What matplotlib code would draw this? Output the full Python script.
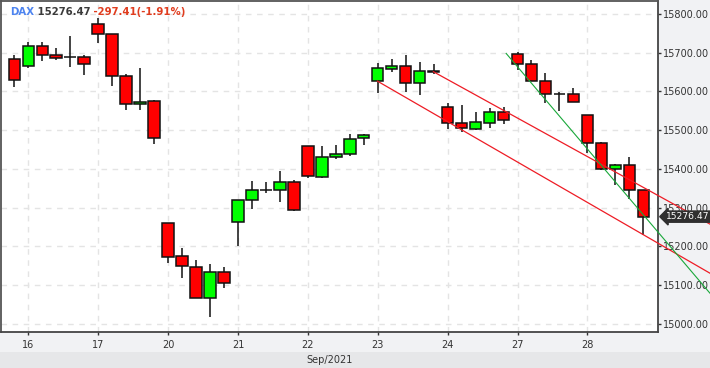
import matplotlib
matplotlib.use("Agg")
import matplotlib.pyplot as plt
import numpy as np

# ---- data ----
opens = [15683.5, 15665.5, 15717.7, 15694.5, 15687.6, 15688.6, 15773.5, 15747.8, 15639.7, 15568.5,
         15576.2, 15259.1, 15174.2, 15147.5, 15066.2, 15133.0, 15261.6, 15318.2, 15345.5, 15346.5,
         15367.0, 15459.7, 15380.0, 15431.4, 15437.3, 15480.3, 15627.0, 15657.8, 15665.5, 15621.8,
         15651.5, 15560.0, 15518.9, 15503.4, 15518.9, 15547.2, 15696.3, 15670.6, 15626.9, 15593.5,
         15593.5, 15539.5, 15467.5, 15400.6, 15410.9, 15344.0]
highs = [15694.5, 15728.0, 15728.0, 15712.6, 15743.4, 15694.5, 15788.9, 15748.0, 15645.7, 15661.0,
         15578.8, 15260.0, 15195.6, 15164.7, 15154.4, 15146.0, 15318.5, 15367.9, 15365.3, 15393.6,
         15372.3, 15460.0, 15458.0, 15460.5, 15488.8, 15490.6, 15673.2, 15683.5, 15694.5, 15675.8,
         15670.6, 15570.3, 15565.2, 15547.2, 15557.5, 15560.0, 15701.5, 15680.9, 15648.3, 15598.6,
         15608.9, 15540.0, 15470.0, 15413.4, 15430.4, 15345.0]
lows = [15610.4, 15660.3, 15677.4, 15681.7, 15661.9, 15641.3, 15726.2, 15613.0, 15552.3, 15552.3,
        15463.8, 15156.2, 15119.2, 15066.0, 15016.3, 15091.0, 15201.5, 15296.7, 15336.3, 15314.7,
        15290.0, 15377.4, 15377.4, 15425.2, 15434.0, 15461.3, 15596.0, 15650.0, 15598.6, 15590.9,
        15645.0, 15503.4, 15495.7, 15500.9, 15506.0, 15516.3, 15655.0, 15626.9, 15570.3, 15549.7,
        15572.9, 15441.7, 15398.0, 15359.4, 15320.8, 15228.2]
closes = [15629.5, 15717.7, 15693.7, 15686.0, 15687.6, 15670.6, 15747.8, 15639.7, 15567.7, 15573.7,
          15478.5, 15171.6, 15149.3, 15066.2, 15133.0, 15104.8, 15318.2, 15344.0, 15345.5, 15367.0,
          15293.3, 15382.6, 15431.4, 15437.3, 15477.7, 15488.0, 15660.3, 15665.5, 15621.8, 15652.6,
          15650.5, 15518.9, 15506.0, 15521.5, 15547.2, 15526.6, 15670.6, 15626.9, 15593.5, 15593.5,
          15572.9, 15467.5, 15400.6, 15410.9, 15344.0, 15276.47]

day_labels = ["16", "17", "20", "21", "22", "23", "24", "27", "28"]
day_first_candle = [1, 6, 11, 16, 21, 26, 31, 36, 41]
y_ticks = [15000, 15100, 15200, 15300, 15400, 15500, 15600, 15700, 15800]

# trend lines: (index, value) end points
red_line_low = [(25.98, 15626.4), (49.76, 15130.5)]
red_line_high = [(29.98, 15650.8), (49.76, 15257.3)]
green_line = [(35.19, 15697.9), (49.76, 15079.0)]

last_price = 15276.47
title_parts = [("DAX", "#4d84f0"), (" 15276.47", "#3a3a3a"), (" -297.41(-1.91%)", "#e03c1e")]
month_label = "Sep/2021"

# ---- figure ----
W, H = 710, 368
fig = plt.figure(figsize=(W / 100, H / 100), dpi=100)
fig.patch.set_facecolor("#f1f2f4")
fig.add_artist(plt.Rectangle((0, 0), 1, 16 / H, transform=fig.transFigure,
                             facecolor="#e6e7e9", edgecolor="none", zorder=0))

ax_left, ax_right, ax_top, ax_bot = 1, 658, 1, 332
ax = fig.add_axes([ax_left / W, 1 - ax_bot / H, (ax_right - ax_left) / W, (ax_bot - ax_top) / H])
ax.set_facecolor("white")

x = np.arange(len(opens))
o = np.array(opens); c = np.array(closes); h = np.array(highs); l = np.array(lows)
colors = np.where(c > o, "#00ff00", np.where(c < o, "#ff0000", "#103010"))

ax.vlines(x, l, h, color="#111111", linewidth=1.1, zorder=3)
bottoms = np.minimum(o, c)
heights = np.abs(c - o)
ax.bar(x, heights, bottom=bottoms, width=0.82, color=colors, edgecolor="#111111",
       linewidth=1.1, zorder=4)

for (x0, y0), (x1, y1) in [red_line_low, red_line_high]:
    ax.plot([x0, x1], [y0, y1], color="#ee1c25", linewidth=0.9, zorder=5, clip_on=False)
(x0, y0), (x1, y1) = green_line
ax.plot([x0, x1], [y0, y1], color="#19a83a", linewidth=0.8, zorder=5, clip_on=False)

ax.set_xlim(-0.95, 46.05)
ax.set_ylim(14978.5, 15833.4)

ax.set_xticks(day_first_candle)
ax.set_xticklabels(day_labels)
ax.set_yticks(y_ticks)
ax.set_yticklabels([f"{v:.2f}" for v in y_ticks])
ax.yaxis.tick_right()
ax.tick_params(axis="both", colors="#333333", labelsize=7, length=2.5, width=1, pad=0.8)
ax.tick_params(axis="x", pad=3)
ax.grid(True, color="#e4e4e4", linestyle=(0, (4, 4)), linewidth=1.0)
ax.set_axisbelow(True)
for s in ax.spines.values():
    s.set_color("#444444")
    s.set_linewidth(1.3)
ax.spines["top"].set_color("#555555")
ax.spines["left"].set_color("#555555")

# last price tag
ax.annotate(f"{last_price:.2f}", xy=(1.0, last_price), xycoords=("axes fraction", "data"),
            xytext=(5.5, 0), textcoords="offset points", ha="left", va="center",
            fontsize=6.6, color="white",
            bbox=dict(boxstyle="larrow,pad=0.12", fc="#2f2f2f", ec="#2f2f2f"),
            annotation_clip=False, zorder=10)

fig.text((ax_left + ax_right) / 2 / W, 8 / H, month_label, ha="center", va="center",
         fontsize=7, color="#333333")

# title pieces
renderer = fig.canvas.get_renderer()
xpos = 10 / W
for txt, col in title_parts:
    t = fig.text(xpos, 1 - 12 / H, txt, ha="left", va="center", fontsize=7.3,
                 fontweight="bold", color=col, zorder=20)
    bb = t.get_window_extent(renderer=renderer)
    xpos = bb.x1 / W

fig.savefig("out.png", dpi=100)
